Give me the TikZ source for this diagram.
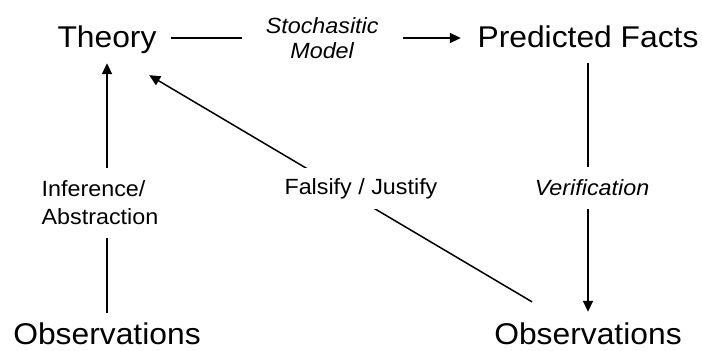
\documentclass[tikz,border=0pt]{standalone}
\usepackage{fontspec}
\setmainfont{Liberation Sans}[FakeStretch=1.06]
\usetikzlibrary{arrows.meta}
\begin{document}
\begin{tikzpicture}[x=1pt,y=1pt,
  term/.style={inner sep=0pt, font=\fontsize{30}{36}\selectfont,
               text height=22pt, text depth=2pt},
  link/.style={line width=1.8pt},
  tip/.style={-{Triangle[length=11pt,width=10pt]}},
  lbl/.style={fill=white, font=\fontsize{22}{28}\selectfont,
              inner xsep=4pt, inner ysep=13pt},
  itlbl/.style={lbl, font=\fontsize{22}{25}\selectfont\itshape},
]
\useasboundingbox (0,0) rectangle (702,351);

% the four statements
\node[term] (theory) at (107,313) {Theory};
\node[term] (pred)   at (588,313) {Predicted Facts};
\node[term] (obsL)   at (107,16)  {Observations};
\node[term] (obsR)   at (588,16)  {Observations};

% theory -> predictions
\draw[link,tip,shorten <=14pt,shorten >=16.5pt] (theory.east) -- (pred.west)
  node[itlbl, pos=0.516, align=center, inner xsep=24pt] {Stochasitic\\Model};

% predictions -> observed data
\draw[link,tip,shorten <=13pt,shorten >=11pt] (pred.south) -- (obsR.north)
  node[itlbl, pos=0.505, xshift=4pt] {Verification};

% observations -> theory by induction
\draw[link,tip,shorten <=10pt,shorten >=13pt] (obsL.north) -- (theory.south)
  node[lbl, pos=0.441, xshift=-7pt, align=left] {Inference/\\Abstraction};

% observed data feeding back to the theory
\draw[line width=1.5pt,tip,shorten <=65pt,shorten >=49pt] (obsR.center) -- (theory.south)
  node[lbl, pos=0.472, yshift=12pt, inner ysep=10pt] {Falsify / Justify};
\end{tikzpicture}
\end{document}
